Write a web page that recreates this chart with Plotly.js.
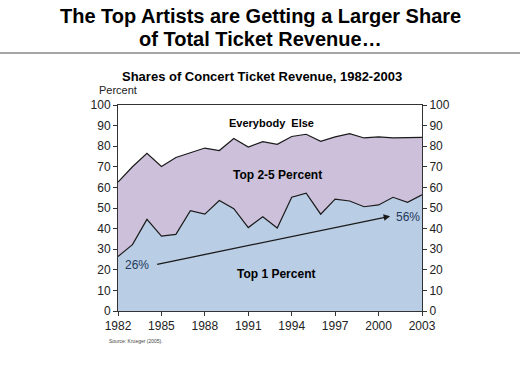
<!DOCTYPE html>
<html>
<head>
<meta charset="utf-8">
<script src="https://cdn.plot.ly/plotly-3.0.1.min.js"></script>
<style>html,body{margin:0;padding:0;background:#fff;}#chart{width:520px;height:371px;}</style>
</head>
<body>
<div id="chart"></div>
<script>
const years = [1982,1983,1984,1985,1986,1987,1988,1989,1990,1991,1992,1993,1994,1995,1996,1997,1998,1999,2000,2001,2002,2003];
const top1 = [26.5,32.2,44.5,36.4,37.2,48.7,47.0,53.6,49.7,40.5,45.7,40.3,55.2,57.2,47.0,54.3,53.4,50.6,51.5,55.2,52.8,56.4];
const top5 = [62.6,70.0,76.5,70.2,74.5,76.8,79.1,77.9,83.7,79.6,82.2,80.9,84.7,85.8,82.4,84.5,86.1,84.0,84.5,84.0,84.0,84.3];
const xTicks = [1982,1985,1988,1991,1994,1997,2000,2003];
const yTicks = [0,10,20,30,40,50,60,70,80,90,100];
const startLabel = "26%";
const endLabel = "56%";

const FONT = "Liberation Sans, Arial, sans-serif";
const PW = 304, PH = 206, L = 118, B = 311;
const px = v => (v - L) / PW;
const py = v => (B - v) / PH;

const traces = [
  {x: years, y: top1, type: 'scatter', mode: 'lines', fill: 'tozeroy',
   fillcolor: '#b9cde5', line: {color: '#1a1a1a', width: 1.2}, showlegend: false, hoverinfo: 'skip'},
  {x: years, y: top5, type: 'scatter', mode: 'lines', fill: 'tonexty',
   fillcolor: '#ccc0da', line: {color: '#1a1a1a', width: 1.2}, showlegend: false, hoverinfo: 'skip'},
  {x: years, y: top5, type: 'scatter', mode: 'lines', yaxis: 'y2',
   line: {color: 'rgba(0,0,0,0)', width: 0}, showlegend: false, hoverinfo: 'skip'}
];

const axisCommon = {range: [0, 100], tickvals: yTicks, showgrid: false, zeroline: false,
  showline: true, linecolor: '#333', linewidth: 1, ticks: 'outside', ticklen: 4, tickcolor: '#333',
  tickfont: {family: FONT, size: 12, color: '#222'}};

const layout = {
  width: 520, height: 371,
  margin: {l: 118, r: 98, t: 105, b: 60},
  paper_bgcolor: '#ffffff', plot_bgcolor: '#ffffff',
  font: {family: FONT, size: 12, color: '#222'},
  xaxis: {range: [1982, 2003], tickvals: xTicks, ticktext: xTicks.map(String),
          showgrid: false, zeroline: false, showline: true, linecolor: '#333', linewidth: 1,
          mirror: true, ticks: 'outside', ticklen: 4, tickcolor: '#333',
          tickfont: {family: FONT, size: 12, color: '#222'}},
  yaxis: Object.assign({}, axisCommon),
  yaxis2: Object.assign({overlaying: 'y', side: 'right'}, axisCommon),
  shapes: [
    {type: 'line', xref: 'paper', yref: 'paper', x0: px(0), x1: px(520),
     y0: py(53), y1: py(53), line: {color: '#888', width: 1.5}}
  ],
  annotations: [
    {xref: 'paper', yref: 'paper', x: px(260), y: py(16), text: '<b>The Top Artists are Getting a Larger Share</b>',
     showarrow: false, font: {family: FONT, size: 20, color: '#000'}, xanchor: 'center', yanchor: 'middle'},
    {xref: 'paper', yref: 'paper', x: px(260), y: py(39), text: '<b>of Total Ticket Revenue…</b>',
     showarrow: false, font: {family: FONT, size: 20, color: '#000'}, xanchor: 'center', yanchor: 'middle'},
    {xref: 'paper', yref: 'paper', x: px(262), y: py(76), text: '<b>Shares of Concert Ticket Revenue, 1982-2003</b>',
     showarrow: false, font: {family: FONT, size: 13, color: '#000'}, xanchor: 'center', yanchor: 'middle'},
    {xref: 'paper', yref: 'paper', x: px(118), y: py(90), text: 'Percent',
     showarrow: false, font: {family: FONT, size: 11, color: '#222'}, xanchor: 'center', yanchor: 'middle'},
    {xref: 'paper', yref: 'paper', x: px(107), y: py(341), text: 'Source: Krueger (2005).',
     showarrow: false, font: {family: FONT, size: 5, color: '#444'}, xanchor: 'left', yanchor: 'middle'},
    {x: 1992.6, y: 91.5, text: '<b>Everybody  Else</b>', showarrow: false, font: {family: FONT, size: 11, color: '#000'}},
    {x: 1993.0, y: 66, text: '<b>Top 2-5 Percent</b>', showarrow: false, font: {family: FONT, size: 12, color: '#000'}},
    {x: 1992.9, y: 18, text: '<b>Top 1 Percent</b>', showarrow: false, font: {family: FONT, size: 12, color: '#000'}},
    {x: 1983.3, y: 22.3, text: startLabel, showarrow: false, font: {family: FONT, size: 12, color: '#1f3a5a'}},
    {x: 2002.0, y: 45.4, text: endLabel, showarrow: false, font: {family: FONT, size: 12, color: '#1f3a5a'}},
    {x: 2000.8, y: 46, ax: 1984.6, ay: 22.5, xref: 'x', yref: 'y', axref: 'x', ayref: 'y',
     text: '', showarrow: true, arrowhead: 2, arrowsize: 1, arrowwidth: 1.3, arrowcolor: '#1a1a1a'}
  ]
};

Plotly.newPlot('chart', traces, layout, {staticPlot: true, displayModeBar: false});
</script>
</body>
</html>
